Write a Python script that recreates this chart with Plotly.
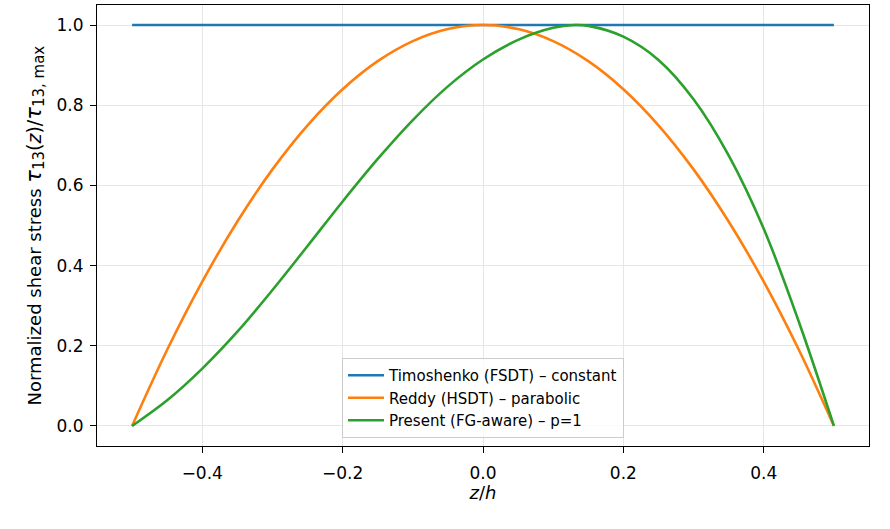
import plotly.graph_objects as go

# ---- data ----
z_const = [-0.5, 0.5]
tau_timoshenko = [1.0, 1.0]

z_reddy = [-0.5, -0.45, -0.4, -0.35, -0.3, -0.25, -0.2, -0.15, -0.1, -0.05, 0.0,
           0.05, 0.1, 0.15, 0.2, 0.25, 0.3, 0.35, 0.4, 0.45, 0.5]
tau_reddy = [0.0, 0.19, 0.36, 0.51, 0.64, 0.75, 0.84, 0.91, 0.96, 0.99, 1.0,
             0.99, 0.96, 0.91, 0.84, 0.75, 0.64, 0.51, 0.36, 0.19, 0.0]

z_present = [-0.5, -0.45, -0.4, -0.35, -0.3, -0.25, -0.2, -0.15, -0.1, -0.05, 0.0,
             0.05, 0.1, 0.13, 0.15, 0.2, 0.25, 0.3, 0.35, 0.4, 0.45, 0.5]
tau_present = [0.0, 0.064, 0.143, 0.235, 0.339, 0.449, 0.560, 0.666, 0.763, 0.847, 0.914,
               0.963, 0.993, 1.0, 0.998, 0.971, 0.913, 0.815, 0.675, 0.492, 0.26, 0.0]

x_tick_vals = [-0.4, -0.2, 0.0, 0.2, 0.4]
x_tick_text = ["\u22120.4", "\u22120.2", "0.0", "0.2", "0.4"]
y_tick_vals = [0.0, 0.2, 0.4, 0.6, 0.8, 1.0]
y_tick_text = ["0.0", "0.2", "0.4", "0.6", "0.8", "1.0"]

names = ["Timoshenko (FSDT) \u2013 constant",
         "Reddy (HSDT) \u2013 parabolic",
         "Present (FG-aware) \u2013 p=1"]
colors = ["#1f77b4", "#ff7f0e", "#2ca02c"]

FONT = "DejaVu Sans"

fig = go.Figure()
fig.add_trace(go.Scatter(x=z_const, y=tau_timoshenko, mode="lines", name=names[0],
                         line=dict(color=colors[0], width=2.6)))
fig.add_trace(go.Scatter(x=z_reddy, y=tau_reddy, mode="lines", name=names[1],
                         line=dict(color=colors[1], width=2.6, shape="spline", smoothing=1.0)))
fig.add_trace(go.Scatter(x=z_present, y=tau_present, mode="lines", name=names[2],
                         line=dict(color=colors[2], width=2.6, shape="spline", smoothing=1.0)))

axis_common = dict(
    showline=True, linecolor="black", linewidth=1.2, mirror=True,
    ticks="outside", ticklen=6, tickwidth=1.2, tickcolor="black",
    showgrid=True, gridcolor="#e6e6e6", gridwidth=1,
    zeroline=False,
    tickfont=dict(family=FONT, size=17, color="black"),
    automargin=False,
)

ylabel = ("Normalized shear stress "
          "<span style='font-size:21px'><i>\u03c4</i></span>"
          "<sub><span style='font-size:15px'>13</span></sub>"
          "<span style='font-size:19px'>(<i>z</i>)/</span>"
          "<span style='font-size:21px'><i>\u03c4</i></span>"
          "<sub><span style='font-size:15px'>13, max</span></sub>")

fig.update_layout(
    width=890, height=529,
    margin=dict(l=97, r=21, t=5, b=83),
    paper_bgcolor="white", plot_bgcolor="white",
    font=dict(family=FONT, color="black"),
    showlegend=True,
    legend=dict(
        x=0.5, xanchor="center", y=0.018, yanchor="bottom",
        bgcolor="rgba(255,255,255,0.8)", bordercolor="#cccccc", borderwidth=1,
        font=dict(family=FONT, size=15, color="black"),
        itemwidth=36,
    ),
    xaxis=dict(
        range=[-0.55, 0.55], tickvals=x_tick_vals, ticktext=x_tick_text,
        ticklabelstandoff=5,
        title=dict(text="<i>z</i>/<i>h</i>", font=dict(family=FONT, size=18), standoff=3),
        **axis_common,
    ),
    yaxis=dict(
        range=[-0.05, 1.05], tickvals=y_tick_vals, ticktext=y_tick_text,
        ticklabelstandoff=3,
        **axis_common,
    ),
    annotations=[dict(
        text=ylabel,
        xref="paper", yref="paper", x=-0.0803, y=0.50,
        xanchor="center", yanchor="middle", textangle=-90, showarrow=False,
        font=dict(family=FONT, size=18, color="black"),
    )],
)

fig.write_html("out.html", config={"displayModeBar": False},
               post_script="document.body.style.margin='0';")
